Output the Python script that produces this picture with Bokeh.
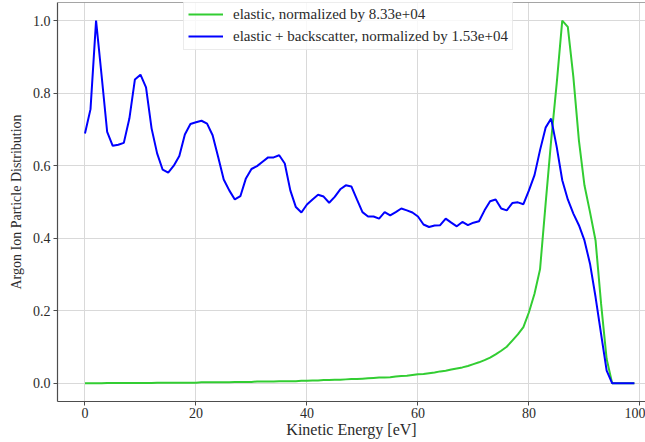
import numpy as np
from bokeh.plotting import figure
from bokeh.models import (Range1d, FixedTicker, PrintfTickFormatter, Legend, LegendItem,
                          Span, ColumnDataSource)
from bokeh.embed import file_html
from bokeh.resources import INLINE

# ---------------- data ----------------
energy = list(range(0, 100))

elastic = [
    0.000, 0.000, 0.000, 0.000, 0.001, 0.001, 0.001, 0.001, 0.001, 0.001,
    0.001, 0.001, 0.001, 0.002, 0.002, 0.002, 0.002, 0.002, 0.002, 0.002,
    0.002, 0.003, 0.003, 0.003, 0.003, 0.003, 0.003, 0.004, 0.004, 0.004,
    0.004, 0.005, 0.005, 0.005, 0.005, 0.006, 0.006, 0.006, 0.006, 0.007,
    0.007, 0.008, 0.008, 0.009, 0.009, 0.010, 0.010, 0.011, 0.012, 0.012,
    0.013, 0.014, 0.015, 0.016, 0.016, 0.017, 0.019, 0.020, 0.021, 0.023,
    0.025, 0.026, 0.028, 0.030, 0.033, 0.035, 0.038, 0.041, 0.044, 0.048,
    0.053, 0.058, 0.064, 0.071, 0.080, 0.090, 0.101, 0.118, 0.135, 0.155,
    0.196, 0.247, 0.315, 0.495, 0.670, 0.827, 1.000, 0.983, 0.845, 0.670,
    0.546, 0.472, 0.394, 0.219, 0.067, 0.000, 0.000, 0.000, 0.000, 0.000,
]

elastic_backscatter = [
    0.689, 0.756, 1.000, 0.848, 0.693, 0.655, 0.658, 0.663, 0.730, 0.838,
    0.851, 0.816, 0.703, 0.634, 0.589, 0.581, 0.600, 0.627, 0.686, 0.715,
    0.720, 0.724, 0.716, 0.684, 0.624, 0.562, 0.532, 0.507, 0.516, 0.565,
    0.591, 0.599, 0.611, 0.623, 0.623, 0.629, 0.606, 0.532, 0.486, 0.471,
    0.493, 0.507, 0.520, 0.515, 0.498, 0.514, 0.535, 0.546, 0.543, 0.507,
    0.472, 0.460, 0.460, 0.454, 0.472, 0.463, 0.472, 0.482, 0.477, 0.471,
    0.460, 0.438, 0.431, 0.435, 0.436, 0.454, 0.443, 0.433, 0.445, 0.436,
    0.443, 0.447, 0.477, 0.502, 0.507, 0.482, 0.477, 0.497, 0.499, 0.494,
    0.532, 0.574, 0.643, 0.705, 0.730, 0.652, 0.560, 0.507, 0.468, 0.436,
    0.394, 0.330, 0.238, 0.136, 0.035, 0.000, 0.000, 0.000, 0.000, 0.000,
]

series_labels = ["elastic, normalized by 8.33e+04",
                 "elastic + backscatter, normalized by 1.53e+04"]
x_ticks = [0, 20, 40, 60, 80, 100]
y_ticks = [0.0, 0.2, 0.4, 0.6, 0.8, 1.0]
x_label = "Kinetic Energy [eV]"
y_label = "Argon Ion Particle Distribution"

# ---------------- styling ----------------
FONT = "Liberation Serif"
TXT = "#2b2b2b"
SPINE = "#4d4d4d"
GRID = "#d9d9d9"
GREEN = "#32cd32"
BLUE = "#0000ff"

p = figure(width=645, height=442, output_backend="svg", toolbar_location=None,
           x_range=Range1d(-4.95, 101.0), y_range=Range1d(-0.05, 1.05),
           min_border_left=57, min_border_right=0, min_border_top=2, min_border_bottom=41)
p.outline_line_color = None
p.background_fill_color = "white"
p.border_fill_color = "white"

src = ColumnDataSource(dict(x=energy, g=elastic, b=elastic_backscatter))
r_g = p.line("x", "g", source=src, line_color=GREEN, line_width=2)
r_b = p.line("x", "b", source=src, line_color=BLUE, line_width=2)

for ax in (p.xaxis[0], p.yaxis[0]):
    ax.axis_line_color = SPINE
    ax.axis_line_width = 1.2
    ax.major_tick_line_color = SPINE
    ax.major_tick_out = 4
    ax.major_tick_in = 0
    ax.minor_tick_line_color = None
    ax.major_label_text_font = FONT
    ax.major_label_text_font_size = "14px"
    ax.major_label_text_color = TXT
    ax.axis_label_text_font = FONT
    ax.axis_label_text_font_style = "normal"
    ax.axis_label_text_color = TXT

p.xaxis.axis_label = x_label
p.yaxis.axis_label = y_label
p.xaxis.axis_label_text_font_size = "16px"
p.yaxis.axis_label_text_font_size = "14px"
p.xaxis.ticker = FixedTicker(ticks=x_ticks)
p.yaxis.ticker = FixedTicker(ticks=y_ticks)
p.yaxis.formatter = PrintfTickFormatter(format="%.1f")
p.xaxis.major_label_standoff = 2
p.yaxis.major_label_standoff = 3
p.xaxis.axis_label_standoff = 0
p.yaxis.axis_label_standoff = 6

p.xgrid.ticker = FixedTicker(ticks=x_ticks)
p.ygrid.ticker = FixedTicker(ticks=y_ticks)
p.grid.grid_line_color = GRID
p.grid.grid_line_width = 1

# top spine
p.add_layout(Span(location=1.05, dimension="width", line_color=SPINE, line_width=1.2))

legend = Legend(items=[LegendItem(label=series_labels[0], renderers=[r_g]),
                       LegendItem(label=series_labels[1], renderers=[r_b])],
                location=(126, 351), orientation="vertical",
                label_text_font=FONT, label_text_font_size="15px", label_text_color=TXT,
                glyph_width=35, glyph_height=18, label_height=18, label_standoff=10,
                padding=4, spacing=4, margin=0,
                background_fill_color="white", background_fill_alpha=0.8,
                border_line_color="#cccccc", border_line_alpha=0.4)
p.add_layout(legend, "center")

open("out.html", "w").write(file_html(p, INLINE))
